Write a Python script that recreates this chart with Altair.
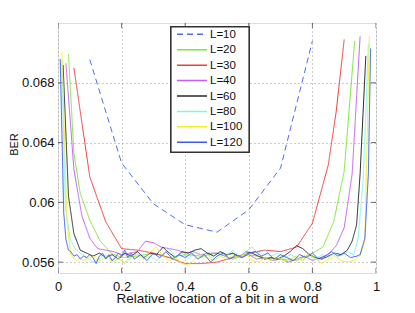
import altair as alt
import pandas as pd

FONT = "Liberation Sans"

series_names = ["L=10", "L=20", "L=30", "L=40", "L=60", "L=80", "L=100", "L=120"]
colors = ["#4f6cf5", "#7de83a", "#f53a3a", "#c45ef5", "#2a2a2a", "#7ff5e6", "#f0f020", "#3a5cf5"]
dashes = [[6, 4], [1, 0], [1, 0], [1, 0], [1, 0], [1, 0], [1, 0], [1, 0]]

x_L10 = [0.1, 0.2, 0.3, 0.4, 0.5, 0.6, 0.7, 0.8]
y_L10 = [0.06955, 0.06263, 0.0599, 0.0585, 0.0580, 0.0595, 0.0623, 0.0708]

x_L20 = [0.033, 0.05, 0.07, 0.1, 0.133, 0.167, 0.2, 0.25, 0.3, 0.35, 0.4, 0.45,
         0.5, 0.55, 0.6, 0.65, 0.7, 0.75, 0.8, 0.833, 0.867, 0.9, 0.933]
y_L20 = [0.0699, 0.0633, 0.0606, 0.0588, 0.0574, 0.0566, 0.0563, 0.0564, 0.0566,
         0.0563, 0.0565, 0.0564, 0.0566, 0.0562, 0.0565, 0.0563, 0.0562, 0.0561,
         0.0566, 0.0570, 0.0587, 0.0621, 0.0708]

x_L30 = [0.05, 0.1, 0.15, 0.2, 0.25, 0.3, 0.35, 0.4, 0.45, 0.5, 0.55, 0.6, 0.65,
         0.7, 0.75, 0.8, 0.85, 0.875, 0.9]
y_L30 = [0.0690, 0.0617, 0.0587, 0.0569, 0.0568, 0.0566, 0.0563, 0.0559, 0.0559,
         0.0560, 0.0563, 0.0566, 0.0568, 0.0567, 0.0570, 0.0586, 0.0625, 0.0661, 0.0709]

x_L40 = [0.025, 0.05, 0.075, 0.1, 0.125, 0.15, 0.175, 0.2, 0.225, 0.25, 0.275, 0.3,
         0.325, 0.35, 0.375, 0.4, 0.425, 0.45, 0.475, 0.5, 0.525, 0.55, 0.575, 0.6,
         0.625, 0.65, 0.675, 0.7, 0.725, 0.75, 0.775, 0.8, 0.825, 0.85, 0.875, 0.9,
         0.925, 0.95]
y_L40 = [0.0693, 0.0622, 0.0591, 0.0576, 0.0569, 0.0568, 0.0567, 0.0565, 0.0566,
         0.0567, 0.0574, 0.0573, 0.0570, 0.0569, 0.0568, 0.0566, 0.0567, 0.0565,
         0.0566, 0.0566, 0.0564, 0.0566, 0.0563, 0.0565, 0.0562, 0.0563, 0.0561,
         0.0562, 0.0560, 0.0562, 0.0564, 0.0561, 0.0563, 0.0565, 0.0571, 0.0583,
         0.0619, 0.0711]

x_L60 = [0.016, 0.033, 0.05, 0.07, 0.09, 0.11, 0.13, 0.15, 0.17, 0.19, 0.21, 0.23,
         0.25, 0.27, 0.29, 0.31, 0.33, 0.35, 0.37, 0.39, 0.41, 0.43, 0.45, 0.47,
         0.49, 0.51, 0.53, 0.55, 0.57, 0.59, 0.61, 0.63, 0.65, 0.67, 0.69, 0.71,
         0.73, 0.75, 0.77, 0.79, 0.81, 0.83, 0.85, 0.87, 0.89, 0.91, 0.925, 0.939,
         0.95, 0.968]
y_L60 = [0.0692, 0.0604, 0.0579, 0.0568, 0.0566, 0.0564, 0.0566, 0.0563, 0.0565,
         0.0562, 0.0566, 0.0564, 0.0567, 0.0563, 0.0566, 0.0565, 0.0570, 0.0566,
         0.0563, 0.0567, 0.0566, 0.0568, 0.0569, 0.0566, 0.0564, 0.0567, 0.0565,
         0.0566, 0.0563, 0.0567, 0.0566, 0.0564, 0.0562, 0.0563, 0.0562, 0.0564,
         0.0567, 0.0571, 0.0569, 0.0565, 0.0563, 0.0562, 0.0564, 0.0566, 0.0565,
         0.0568, 0.0574, 0.0585, 0.0619, 0.0698]

x_L80 = [0.012, 0.023, 0.039, 0.054, 0.07, 0.09, 0.11, 0.13, 0.15, 0.17, 0.19, 0.21,
         0.23, 0.25, 0.27, 0.29, 0.31, 0.33, 0.35, 0.37, 0.39, 0.41, 0.43, 0.45,
         0.47, 0.49, 0.51, 0.53, 0.55, 0.57, 0.59, 0.61, 0.63, 0.65, 0.67, 0.69,
         0.71, 0.73, 0.75, 0.77, 0.79, 0.81, 0.83, 0.85, 0.87, 0.89, 0.91, 0.93,
         0.944, 0.96, 0.976]
y_L80 = [0.0695, 0.0597, 0.0575, 0.0569, 0.0566, 0.0563, 0.0560, 0.0562, 0.0565,
         0.0561, 0.0563, 0.0559, 0.0563, 0.0566, 0.0562, 0.0564, 0.0561, 0.0565,
         0.0569, 0.0563, 0.0566, 0.0562, 0.0567, 0.0563, 0.0565, 0.0562, 0.0566,
         0.0564, 0.0568, 0.0563, 0.0567, 0.0570, 0.0566, 0.0568, 0.0564, 0.0566,
         0.0562, 0.0565, 0.0563, 0.0561, 0.0564, 0.0562, 0.0565, 0.0563, 0.0566,
         0.0564, 0.0567, 0.0565, 0.0576, 0.0616, 0.0706]

x_L100 = [0.0126, 0.028, 0.039, 0.05, 0.06, 0.07, 0.08, 0.09, 0.11, 0.13, 0.15,
          0.17, 0.19, 0.21, 0.23, 0.25, 0.27, 0.29, 0.31, 0.33, 0.35, 0.37, 0.39,
          0.41, 0.43, 0.45, 0.47, 0.49, 0.51, 0.53, 0.55, 0.57, 0.59, 0.61, 0.63,
          0.65, 0.67, 0.69, 0.71, 0.73, 0.75, 0.77, 0.79, 0.81, 0.83, 0.85, 0.87,
          0.89, 0.91, 0.93, 0.95, 0.965, 0.979]
y_L100 = [0.0701, 0.0588, 0.0566, 0.0562, 0.0561, 0.0563, 0.0561, 0.0562, 0.0564,
          0.0561, 0.0563, 0.0560, 0.0562, 0.0560, 0.0563, 0.0565, 0.0562, 0.0567,
          0.0570, 0.0564, 0.0561, 0.0563, 0.0559, 0.0558, 0.0562, 0.0565, 0.0563,
          0.0561, 0.0564, 0.0562, 0.0565, 0.0563, 0.0566, 0.0561, 0.0560, 0.0563,
          0.0561, 0.0563, 0.0561, 0.0562, 0.0564, 0.0561, 0.0566, 0.0562, 0.0559,
          0.0562, 0.0564, 0.0561, 0.0560, 0.0561, 0.0564, 0.0574, 0.0711]

x_L120 = [0.007, 0.018, 0.025, 0.033, 0.04, 0.05, 0.06, 0.07, 0.08, 0.09, 0.10,
          0.11, 0.12, 0.13, 0.14, 0.15, 0.16, 0.17, 0.18, 0.19, 0.2, 0.21, 0.22,
          0.23, 0.24, 0.26, 0.28, 0.30, 0.32, 0.34, 0.36, 0.38, 0.40, 0.42, 0.44,
          0.46, 0.48, 0.50, 0.52, 0.54, 0.56, 0.58, 0.60, 0.62, 0.64, 0.66, 0.68,
          0.70, 0.72, 0.74, 0.76, 0.78, 0.80, 0.82, 0.84, 0.86, 0.88, 0.90, 0.92,
          0.94, 0.95, 0.965, 0.976, 0.983]
y_L120 = [0.0696, 0.0593, 0.0575, 0.0568, 0.0567, 0.0564, 0.0565, 0.0562, 0.0564,
          0.0563, 0.0565, 0.0563, 0.0559, 0.0564, 0.0566, 0.0562, 0.0565, 0.0561,
          0.0563, 0.0566, 0.0564, 0.0568, 0.0563, 0.0566, 0.0562, 0.0565, 0.0561,
          0.0566, 0.0563, 0.0567, 0.0562, 0.0565, 0.0563, 0.0566, 0.0562, 0.0565,
          0.0560, 0.0564, 0.0566, 0.0562, 0.0565, 0.0563, 0.0566, 0.0567, 0.0564,
          0.0566, 0.0562, 0.0565, 0.0563, 0.0561, 0.0565, 0.0563, 0.0566, 0.0562,
          0.0564, 0.0567, 0.0564, 0.0566, 0.0563, 0.0564, 0.0565, 0.0576, 0.0619,
          0.0703]

x_ticks = [0, 0.2, 0.4, 0.6, 0.8, 1]
y_ticks = [0.056, 0.06, 0.064, 0.068]

all_x = [x_L10, x_L20, x_L30, x_L40, x_L60, x_L80, x_L100, x_L120]
all_y = [y_L10, y_L20, y_L30, y_L40, y_L60, y_L80, y_L100, y_L120]

rows = []
for name, xs, ys in zip(series_names, all_x, all_y):
    for xv, yv in zip(xs, ys):
        rows.append({"series": name, "x": xv, "y": yv})
df = pd.DataFrame(rows)
legend_df = pd.DataFrame({"series": series_names})

W, H = 318, 250
frame = "#333333"

xscale = alt.Scale(domain=[0, 1], nice=False, zero=False)
yscale = alt.Scale(domain=[0.05527, 0.072], nice=False, zero=False)
cscale = alt.Scale(domain=series_names, range=colors)
dscale = alt.Scale(domain=series_names, range=dashes)

lines = alt.Chart(df).mark_line(strokeWidth=1, clip=True).encode(
    x=alt.X("x:Q", scale=xscale, title="Relative location of a bit in a word",
            axis=alt.Axis(values=x_ticks, format="~g", ticks=False, labelPadding=7,
                          grid=True, gridDash=[1, 3], gridColor="#9a9a9a",
                          labelFont=FONT, labelFontSize=13, labelColor="#111111",
                          titleFont=FONT, titleFontSize=13.5, titleFontWeight="normal",
                          titleColor="#111111", titleY=29, titleBaseline="alphabetic",
                          domain=False, labelFlush=False)),
    y=alt.Y("y:Q", scale=yscale, title="BER",
            axis=alt.Axis(values=y_ticks, format="~g", ticks=False, labelPadding=4,
                          grid=True, gridDash=[1, 3], gridColor="#9a9a9a",
                          labelFont=FONT, labelFontSize=13, labelColor="#111111",
                          titleFont=FONT, titleFontSize=11, titleFontWeight="normal",
                          titleColor="#111111", titleX=-41, titleY=121,
                          titleBaseline="alphabetic", titleAngle=270,
                          domain=False, labelFlush=False)),
    color=alt.Color("series:N", scale=cscale, legend=None),
    strokeDash=alt.StrokeDash("series:N", scale=dscale, legend=None),
    detail="series:N",
)

xt = pd.DataFrame({"t": x_ticks})
yt = pd.DataFrame({"t": y_ticks})
tick_x_bottom = alt.Chart(xt).mark_tick(size=10, thickness=1, color=frame, clip=True).encode(
    x=alt.X("t:Q", scale=xscale), y=alt.value(H))
tick_x_top = alt.Chart(xt).mark_tick(size=10, thickness=1, color=frame, clip=True).encode(
    x=alt.X("t:Q", scale=xscale), y=alt.value(0))
tick_y_left = alt.Chart(yt).mark_tick(size=10, thickness=1, color=frame, clip=True).encode(
    y=alt.Y("t:Q", scale=yscale), x=alt.value(0))
tick_y_right = alt.Chart(yt).mark_tick(size=10, thickness=1, color=frame, clip=True).encode(
    y=alt.Y("t:Q", scale=yscale), x=alt.value(W))

main = alt.layer(tick_x_bottom, tick_x_top, tick_y_left, tick_y_right, lines)

# legend box (MATLAB style) drawn inside the plot area
leg_y = alt.Scale(type="point", domain=series_names, range=[11.3, 119.3], padding=0)
leg_box = alt.Chart(legend_df).mark_rect(fill="white", stroke=frame, strokeWidth=1.2).encode(
    x=alt.value(113), x2=alt.value(191), y=alt.value(4), y2=alt.value(129))
leg_lines = alt.Chart(legend_df).mark_rule(strokeWidth=1.5).encode(
    x=alt.value(119), x2=alt.value(149),
    y=alt.Y("series:N", scale=leg_y, axis=None),
    color=alt.Color("series:N", scale=cscale, legend=None),
    strokeDash=alt.StrokeDash("series:N", scale=dscale, legend=None),
)
leg_text = alt.Chart(legend_df).mark_text(
    align="left", baseline="middle", font=FONT, fontSize=11.5, color="#111111", dy=0.5
).encode(
    x=alt.value(152),
    y=alt.Y("series:N", scale=leg_y, axis=None),
    text="series:N",
)
leg = alt.layer(leg_box, leg_lines, leg_text)

chart = alt.layer(main, leg).resolve_scale(y="independent").properties(
    width=W, height=H,
    autosize=alt.AutoSizeParams(type="none"),
    padding={"left": 50, "top": 15, "right": 20, "bottom": 32},
).configure_view(stroke=frame, strokeWidth=1.2).configure(background="white")

chart.save("out.html", embed_options={"renderer": "svg", "actions": False})
